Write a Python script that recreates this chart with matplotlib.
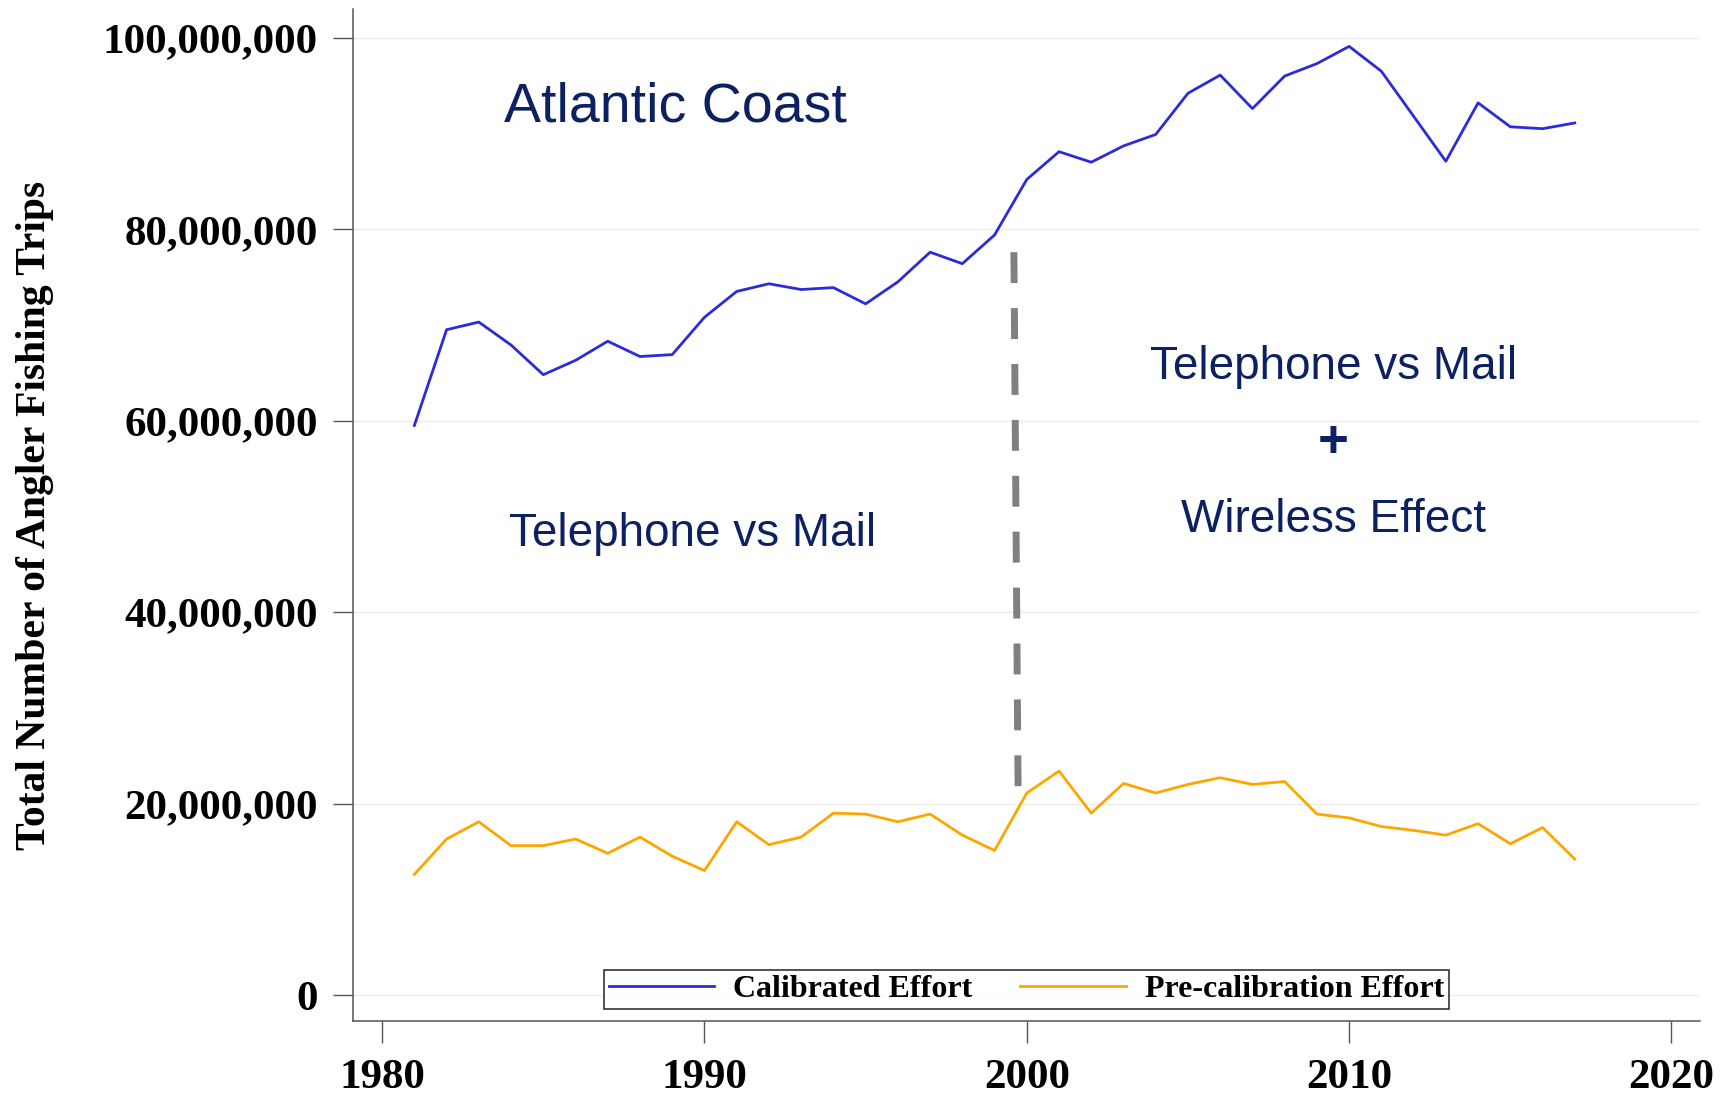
import numpy as np
import matplotlib
matplotlib.use('Agg')
import matplotlib.pyplot as plt
from matplotlib.ticker import FuncFormatter

# data
years = list(range(1981, 2018))
calibrated = [59.5, 69.5, 70.3, 67.9, 64.8, 66.3, 68.3, 66.7, 66.9, 70.8,
              73.5, 74.3, 73.7, 73.9, 72.2, 74.5, 77.6, 76.4, 79.4, 85.2,
              88.1, 87.0, 88.7, 89.9, 94.2, 96.1, 92.6, 96.0, 97.3, 99.1,
              96.5, 91.8, 87.1, 93.2, 90.7, 90.5, 91.1]
precalibration = [12.6, 16.3, 18.1, 15.6, 15.6, 16.3, 14.8, 16.5, 14.5, 13.0,
                  18.1, 15.7, 16.5, 19.0, 18.9, 18.1, 18.9, 16.7, 15.1, 21.1,
                  23.4, 19.0, 22.1, 21.1, 22.0, 22.7, 22.0, 22.3, 18.9, 18.5,
                  17.6, 17.2, 16.7, 17.9, 15.8, 17.5, 14.2]
calibrated = [v * 1e6 for v in calibrated]
precalibration = [v * 1e6 for v in precalibration]

# break line (survey change)
break_x = [1999.6, 1999.73]
break_y = [77.6e6, 21.4e6]

xticks = [1980, 1990, 2000, 2010, 2020]
yticks = [0, 20e6, 40e6, 60e6, 80e6, 100e6]

navy = '#0c2161'
serif = ['Liberation Serif', 'DejaVu Serif']
sans = ['Liberation Sans', 'DejaVu Sans']

fig = plt.figure(figsize=(17.31, 11.03), dpi=100)
ax = fig.add_axes([0.204, 0.0743, 0.778, 0.9175])

ax.plot(years, calibrated, color='#2b2bd9', lw=2, label='Calibrated Effort')
ax.plot(years, precalibration, color='#ffa500', lw=2, label='Pre-calibration Effort')
ax.plot(break_x, break_y, color='#808080', lw=5, dashes=(4.45, 3.6), solid_capstyle='butt')

ax.set_xlim(1979.1, 2020.88)
ax.set_ylim(-2.72e6, 103e6)
ax.set_xticks(xticks)
ax.set_yticks(yticks)
ax.yaxis.set_major_formatter(FuncFormatter(lambda v, p: '{:,.0f}'.format(v)))

for y in yticks:
    ax.axhline(y, color='#ececec', lw=1, zorder=0)

for s in ['top', 'right']:
    ax.spines[s].set_visible(False)
for s in ['left', 'bottom']:
    ax.spines[s].set_color('#555555')
    ax.spines[s].set_linewidth(1.1)

ax.tick_params(axis='y', length=14.5, width=1, color='#555555', pad=11)
ax.tick_params(axis='x', length=15.5, width=1, color='#555555', pad=12)
for lab in ax.get_yticklabels():
    lab.set_family(serif)
    lab.set_fontweight('bold')
    lab.set_fontsize(31)
for lab in ax.get_xticklabels():
    lab.set_family(serif)
    lab.set_fontweight('bold')
    lab.set_fontsize(31)

ax.set_ylabel('Total Number of Angler Fishing Trips', family=serif,
              fontweight='bold', fontsize=30)
ax.yaxis.set_label_coords(-0.222, 0.5)

ax.text(1989.09, 92.7e6, 'Atlantic Coast', family=sans, fontsize=40,
        color=navy, ha='center', va='center')
ax.text(1989.62, 48.2e6, 'Telephone vs Mail', family=sans, fontsize=33,
        color=navy, ha='center', va='center')
ax.text(2009.52, 65.6e6, 'Telephone vs Mail', family=sans, fontsize=33,
        color=navy, ha='center', va='center')
ax.text(2009.52, 57.7e6, '+', family=sans, fontsize=38, fontweight='bold',
        color=navy, ha='center', va='center')
ax.text(2009.52, 49.6e6, 'Wireless Effect', family=sans, fontsize=33,
        color=navy, ha='center', va='center')

leg = ax.legend(loc='lower center', bbox_to_anchor=(0.5, 0.012), ncol=2,
                prop={'family': serif, 'weight': 'bold', 'size': 23},
                frameon=True, fancybox=False, edgecolor='black',
                handlelength=3.3, handletextpad=0.6, columnspacing=1.5,
                borderpad=0.15, borderaxespad=0)
leg.get_frame().set_linewidth(1.2)

fig.savefig('out.png', dpi=100)
